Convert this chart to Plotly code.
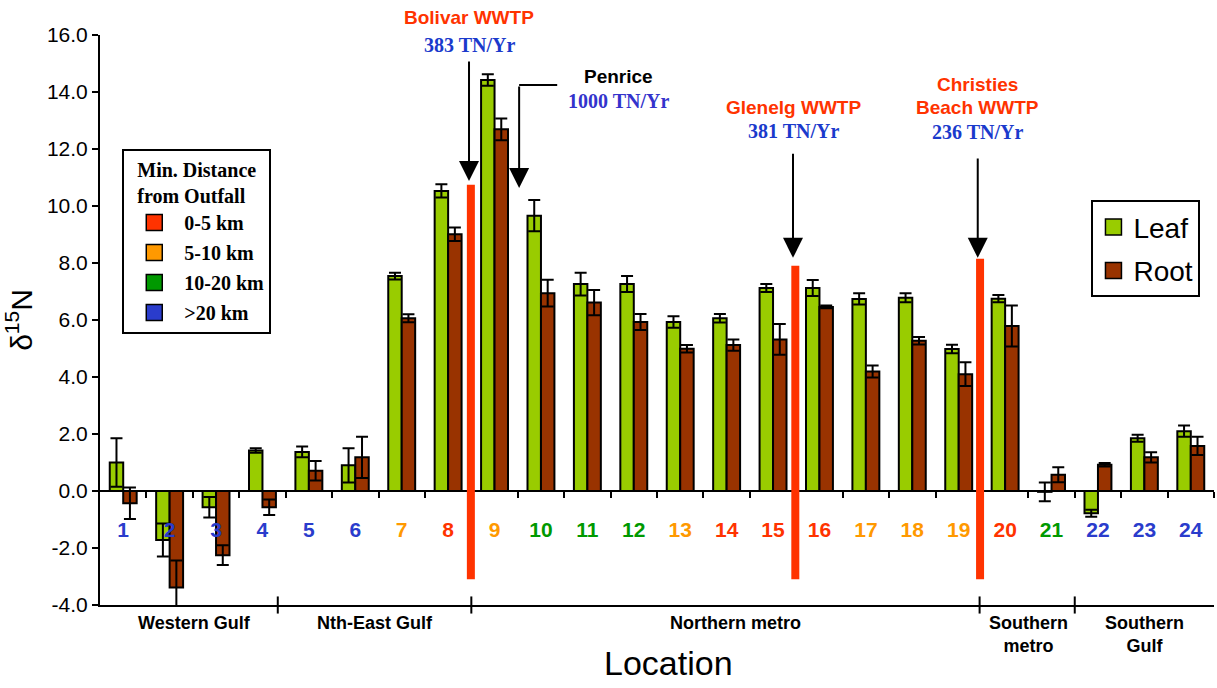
import plotly.graph_objects as go

# ---------------- data ----------------
locations = list(range(1, 25))
leaf = [1.0, -1.72, -0.57, 1.42, 1.37, 0.9, 7.54, 10.53, 14.42, 9.66, 7.26, 7.26,
        5.93, 6.06, 7.12, 7.12, 6.74, 6.78, 4.98, 6.75, -0.03, -0.78, 1.85, 2.1]
leaf_err = [0.85, 0.58, 0.36, 0.08, 0.19, 0.6, 0.12, 0.23, 0.2, 0.55, 0.4, 0.28,
            0.2, 0.15, 0.14, 0.28, 0.2, 0.16, 0.15, 0.13, 0.33, 0.12, 0.12, 0.2]
root = [-0.43, -3.39, -2.25, -0.57, 0.71, 1.18, 6.06, 9.01, 12.69, 6.94, 6.61, 5.93,
        4.99, 5.12, 5.32, 6.46, 4.19, 5.27, 4.1, 5.79, 0.57, 0.92, 1.18, 1.58]
root_err = [0.55, 0.95, 0.35, 0.27, 0.34, 0.72, 0.14, 0.24, 0.38, 0.47, 0.44, 0.28,
            0.13, 0.2, 0.54, 0.05, 0.21, 0.13, 0.42, 0.72, 0.26, 0.06, 0.18, 0.32]
dist_class = [">20 km"] * 6 + ["5-10 km", "0-5 km", "5-10 km", "10-20 km", "10-20 km",
              "10-20 km", "5-10 km", "0-5 km", "0-5 km", "0-5 km", "5-10 km", "5-10 km",
              "5-10 km", "0-5 km", "10-20 km", ">20 km", ">20 km", ">20 km"]
dist_names = ["0-5 km", "5-10 km", "10-20 km", ">20 km"]
dist_colors = {"0-5 km": "#ff3300", "5-10 km": "#ff9900", "10-20 km": "#009900", ">20 km": "#2a3ccc"}

region_names = ["Western Gulf", "Nth-East Gulf", "Northern metro", "Southern<br>metro", "Southern<br>Gulf"]
region_centers = [2.54, 6.42, 14.2, 20.5, 23.0]
region_bounds = [4.33, 8.5, 19.45, 21.5]

y_ticks = [-4, -2, 0, 2, 4, 6, 8, 10, 12, 14, 16]

# outfall marker lines: x position, top of red marker line
outfall_x = [8.49, 15.48, 19.46]
outfall_top = [10.75, 7.9, 8.15]

LEAF_C = "#99cc00"
ROOT_C = "#993300"
RED = "#ff3300"
SANS = "Liberation Sans, Arial, sans-serif"
SERIF = "Liberation Serif, Times New Roman, serif"
Y0, Y1 = -4, 16

fig = go.Figure()

fig.add_trace(go.Bar(
    x=locations, y=leaf, name="Leaf", showlegend=False,
    marker=dict(color=LEAF_C, line=dict(color="black", width=2)),
    error_y=dict(type="data", array=leaf_err, symmetric=True, thickness=2, width=6, color="black"),
))
fig.add_trace(go.Bar(
    x=locations, y=root, name="Root", showlegend=False,
    marker=dict(color=ROOT_C, line=dict(color="black", width=2)),
    error_y=dict(type="data", array=root_err, symmetric=True, thickness=2, width=6, color="black"),
))

# legend entries (Leaf / Root)
for nm, col in [("Leaf", LEAF_C), ("Root", ROOT_C)]:
    fig.add_trace(go.Scatter(x=[None], y=[None], mode="markers", name=nm, legend="legend",
                             legendgroup=nm,
                             marker=dict(symbol="square", size=16, color=col,
                                         line=dict(color="black", width=1.5))))
# legend entries (distance classes)
for nm in dist_names:
    fig.add_trace(go.Scatter(x=[None], y=[None], mode="markers", name=nm, legend="legend2",
                             legendgroup="d" + nm,
                             marker=dict(symbol="square", size=16, color=dist_colors[nm],
                                         line=dict(color="black", width=1.5))))

# invisible trace to hold the zero-line category axis
fig.add_trace(go.Scatter(x=[None], y=[None], xaxis="x2", showlegend=False, hoverinfo="skip"))

ticktext = [f"<span style='color:{dist_colors[c]}'>{l}</span>" for l, c in zip(locations, dist_class)]

shapes = []
for xo, top in zip(outfall_x, outfall_top):
    shapes.append(dict(type="line", xref="x", yref="y", x0=xo, x1=xo, y0=-3.1, y1=top,
                       line=dict(color=RED, width=8)))
for b in region_bounds:
    shapes.append(dict(type="line", xref="x", yref="paper", x0=b, x1=b, y0=-0.015, y1=0.015,
                       line=dict(color="black", width=2)))
# Penrice elbow
shapes.append(dict(type="line", xref="x", yref="y", x0=9.53, x1=10.35, y0=14.25, y1=14.25,
                   line=dict(color="black", width=2)))

annotations = []
def txt(x, y, text, color, family, size=20):
    annotations.append(dict(x=x, y=(y - Y0) / (Y1 - Y0), xref="x", yref="paper",
                            xanchor="center", yanchor="middle",
                            text=f"<b>{text}</b>", showarrow=False,
                            font=dict(color=color, family=family, size=size), align="center"))

def arrow(x, ytip, ytail):
    annotations.append(dict(x=x, y=ytip, ax=x, ay=ytail, xref="x", yref="y", axref="x", ayref="y",
                            text="", showarrow=True, arrowhead=2, arrowsize=2, arrowwidth=2,
                            arrowcolor="black", standoff=0))

txt(8.45, 16.6, "Bolivar WWTP", RED, SANS, 19)
txt(8.45, 15.65, "383 TN/Yr", "#1a3acc", SERIF, 20)
arrow(8.45, 10.88, 15.12)

txt(11.66, 14.53, "Penrice", "black", SANS, 19)
txt(11.66, 13.68, "1000 TN/Yr", "#3333cc", SERIF, 20)
arrow(9.53, 10.63, 14.25)

txt(15.45, 13.44, "Glenelg WWTP", RED, SANS, 19)
txt(15.45, 12.63, "381 TN/Yr", "#1a3acc", SERIF, 20)
arrow(15.43, 8.18, 11.89)

txt(19.41, 14.28, "Christies", RED, SANS, 19)
txt(19.41, 13.44, "Beach WWTP", RED, SANS, 19)
txt(19.41, 12.6, "236 TN/Yr", "#1a3acc", SERIF, 20)
arrow(19.41, 8.18, 11.72)

for nm, cx in zip(region_names, region_centers):
    annotations.append(dict(x=cx, y=-0.01, xref="x", yref="paper", yanchor="top",
                            text=f"<b>{nm}</b>", showarrow=False, align="center",
                            font=dict(family=SANS, size=18, color="black")))

# x-axis title
annotations.append(dict(x=0.51, y=-0.102, xref="paper", yref="paper", xanchor="center",
                        yanchor="middle", text="Location", showarrow=False,
                        font=dict(family=SANS, size=34, color="black")))

fig.update_layout(
    width=1217, height=688,
    margin=dict(l=100, r=3, t=35, b=83),
    paper_bgcolor="white", plot_bgcolor="white",
    barmode="group", bargap=0.42, bargroupgap=0,
    font=dict(family=SANS, color="black"),
    xaxis=dict(range=[0.5, 24.5], showgrid=False, zeroline=False, showline=True,
               linecolor="black", linewidth=2, ticks="", showticklabels=False),
    xaxis2=dict(overlaying="x", anchor="free", position=0.2, side="bottom",
                range=[0.5, 24.5], showgrid=False, zeroline=False, showline=False,
                tickmode="array", tickvals=locations, ticktext=ticktext,
                ticks="outside", ticklen=20, tickcolor="rgba(0,0,0,0)",
                tickfont=dict(family=SANS, size=21, weight="bold"),
                minor=dict(tickvals=[l + 0.5 for l in locations], ticks="outside", ticklen=6,
                           tickwidth=2, tickcolor="black")),
    yaxis=dict(range=[Y0, Y1], showgrid=False, showline=True, linecolor="black", linewidth=2,
               zeroline=True, zerolinecolor="black", zerolinewidth=2,
               ticks="outside", ticklen=6, tickwidth=2, tickcolor="black",
               tickmode="array", tickvals=y_ticks, ticktext=[f"{v:.1f}" for v in y_ticks],
               tickfont=dict(family=SANS, size=21),
               title=dict(text="δ<sup>15</sup>N", font=dict(size=30, family=SANS), standoff=8)),
    legend=dict(x=0.89, y=0.71, xanchor="left", yanchor="top", bgcolor="white",
                bordercolor="black", borderwidth=2, font=dict(family=SANS, size=28),
                tracegroupgap=4, itemclick=False),
    legend2=dict(x=0.02, y=0.80, xanchor="left", yanchor="top", bgcolor="white",
                 bordercolor="black", borderwidth=2,
                 font=dict(family=SERIF, size=20, weight="bold"),
                 title=dict(text="Min. Distance<br>from Outfall", side="top center",
                            font=dict(family=SERIF, size=20, weight="bold")),
                 itemwidth=50, tracegroupgap=1, itemclick=False),
    shapes=shapes,
    annotations=annotations,
)

fig.write_html("out.html")
